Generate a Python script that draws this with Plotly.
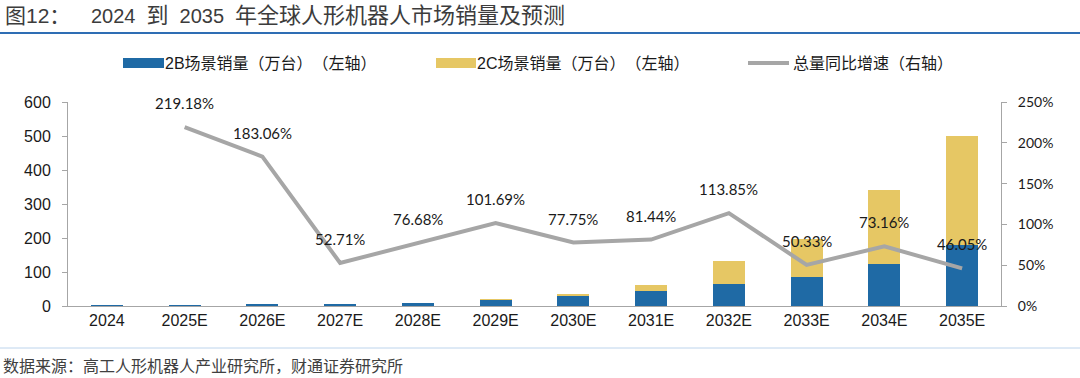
import plotly.graph_objects as go

# ---- data ----
years = ["2024", "2025E", "2026E", "2027E", "2028E", "2029E", "2030E",
         "2031E", "2032E", "2033E", "2034E", "2035E"]
sales_2b = [0.39, 1.24, 3.5, 5.35, 9.46, 18.7, 29.5, 44, 64, 85, 123, 178]
sales_2c = [0, 0, 0, 0, 0, 0.37, 4.4, 17.5, 67.5, 112.7, 219.4, 322]
growth = [None, 219.18, 183.06, 52.71, 76.68, 101.69, 77.75, 81.44,
          113.85, 50.33, 73.16, 46.05]
left_ticks = [0, 100, 200, 300, 400, 500, 600]
right_ticks = [0, 50, 100, 150, 200, 250]
right_labels = ["0%", "50%", "100%", "150%", "200%", "250%"]

name_2b = "2B场景销量（万台）（左轴）"
name_2c = "2C场景销量（万台）（左轴）"
name_g = "总量同比增速（右轴）"
title_a = "图12："
title_b = ("<span style='font-size:20px'>2024</span>\u2002到\u2002"
           "<span style='font-size:20px'>2035</span>\u2002"
           "年全球人形机器人市场销量及预测")
source = "数据来源：高工人形机器人产业研究所，财通证券研究所"

# ---- style ----
BLUE = "#1F6AA5"
YELLOW = "#E6C764"
GREY = "#A6A6A6"
AXIS = "#A6A6A6"
TXT = "#1a1a1a"
CJK = "Liberation Sans, Noto Sans CJK SC, sans-serif"
CAL = "Lato, Liberation Sans, sans-serif"

W, H = 1080, 378
L, R, T, B = 68, 1001, 102, 306


def px(x):
    return (x - L) / (R - L)


def py(y):
    return (B - y) / (B - T)


fig = go.Figure()
fig.add_trace(go.Bar(x=years, y=sales_2b, name=name_2b, marker_color=BLUE,
                     marker_line_width=0, yaxis="y", showlegend=False))
fig.add_trace(go.Bar(x=years, y=sales_2c, name=name_2c, marker_color=YELLOW,
                     marker_line_width=0, yaxis="y", showlegend=False))
fig.add_trace(go.Scatter(x=years, y=growth, name=name_g, mode="lines",
                         line=dict(color=GREY, width=4), yaxis="y2",
                         showlegend=False))

annotations = []
for xv, g in zip(years, growth):
    if g is None:
        continue
    annotations.append(dict(x=xv, y=g, xref="x", yref="y2", text=f"{g:.2f}%",
                            showarrow=False, yshift=24,
                            font=dict(family=CAL, size=15, color=TXT)))

# title
annotations.append(dict(x=px(3), y=py(16), xref="paper", yref="paper",
                        text=title_a, showarrow=False, xanchor="left",
                        yanchor="middle",
                        font=dict(family=CJK, size=21, color="#3c3c3c")))
annotations.append(dict(x=px(89), y=py(16), xref="paper", yref="paper",
                        text=title_b, showarrow=False, xanchor="left",
                        yanchor="middle",
                        font=dict(family=CJK, size=22, color="#3c3c3c")))
# source
annotations.append(dict(x=px(1), y=py(366), xref="paper", yref="paper",
                        text=source, showarrow=False, xanchor="left",
                        yanchor="middle",
                        font=dict(family=CJK, size=16, color="#404040")))
# legend texts
for xl, t in [(167, name_2b), (479, name_2c), (791, name_g)]:
    annotations.append(dict(x=px(xl), y=py(63), xref="paper", yref="paper",
                            text=t, showarrow=False, xanchor="left",
                            yanchor="middle",
                            font=dict(family=CJK, size=16, color=TXT)))

shapes = [
    # title rule
    dict(type="line", xref="paper", yref="paper", x0=px(0), x1=px(1080),
         y0=py(33), y1=py(33), line=dict(color="#2E6DB4", width=2)),
    # footer rule
    dict(type="line", xref="paper", yref="paper", x0=px(0), x1=px(1080),
         y0=py(348), y1=py(348), line=dict(color="#BDD4EC", width=1)),
    # legend symbols
    dict(type="rect", xref="paper", yref="paper", x0=px(123), x1=px(164),
         y0=py(68), y1=py(58), fillcolor=BLUE, line=dict(width=0)),
    dict(type="rect", xref="paper", yref="paper", x0=px(436), x1=px(476),
         y0=py(68), y1=py(58), fillcolor=YELLOW, line=dict(width=0)),
    dict(type="line", xref="paper", yref="paper", x0=px(748), x1=px(789),
         y0=py(63), y1=py(63), line=dict(color=GREY, width=4)),
]

fig.update_layout(
    width=W, height=H,
    margin=dict(l=L, r=W - R, t=T, b=H - B, pad=0),
    paper_bgcolor="white", plot_bgcolor="white",
    barmode="stack", bargap=0.59,
    showlegend=False,
    annotations=annotations, shapes=shapes,
    xaxis=dict(type="category", showline=True, linecolor=AXIS, linewidth=1,
               ticks="", showgrid=False, zeroline=False,
               tickfont=dict(family="Liberation Sans", size=16, color=TXT)),
    yaxis=dict(range=[0, 600], tickvals=left_ticks, showline=True,
               linecolor=AXIS, linewidth=1, ticks="outside", ticklen=5,
               tickcolor=AXIS, showgrid=False, zeroline=False,
               ticklabelstandoff=8,
               tickfont=dict(family="Liberation Sans", size=16, color=TXT)),
    yaxis2=dict(range=[0, 250], tickvals=right_ticks, ticktext=right_labels,
                overlaying="y", side="right", showline=True, linecolor=AXIS,
                linewidth=1, ticks="outside", ticklen=5, tickcolor=AXIS,
                showgrid=False, zeroline=False, ticklabelstandoff=8,
                tickfont=dict(family=CAL, size=14, color=TXT)),
)

fig.write_html(
    "out.html",
    config={"displayModeBar": False},
    post_script="document.body.style.margin='0';"
                "document.body.style.overflow='hidden';"
                "document.documentElement.style.textSpacingTrim='space-all';",
)
